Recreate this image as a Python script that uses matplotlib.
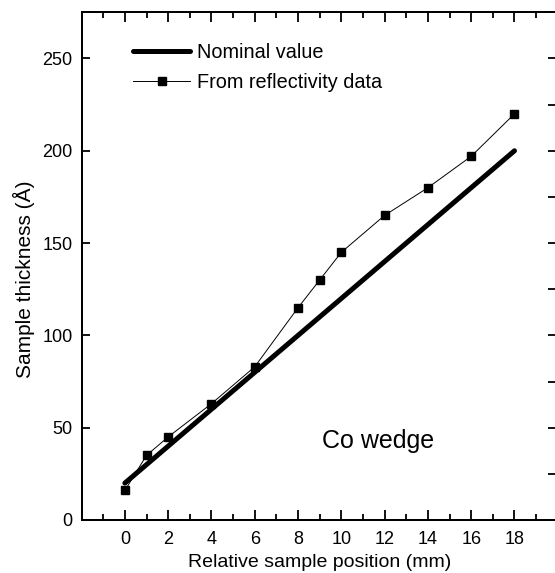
import matplotlib.pyplot as plt
from matplotlib.ticker import MultipleLocator

plt.rcParams['font.family'] = ['Liberation Sans', 'DejaVu Sans']

# nominal wedge thickness (end points)
nominal_x = [0, 18]
nominal_y = [20, 200]

# thickness from reflectivity fits
refl_x = [0, 1, 2, 4, 6, 8, 9, 10, 12, 14, 16, 18]
refl_y = [16, 35, 45, 63, 83, 115, 130, 145, 165, 180, 197, 220]

fig = plt.figure(figsize=(5.55, 5.73), dpi=100)
ax = fig.add_axes([0.147, 0.0925, 0.858, 0.886])

ax.plot(nominal_x, nominal_y, color='black', lw=3.6, solid_capstyle='round',
        label='Nominal value')
ax.plot(refl_x, refl_y, color='black', lw=0.7, marker='s', markersize=6,
        label='From reflectivity data')

ax.set_xlim(-2, 20)
ax.set_ylim(0, 275)
ax.set_xticks(range(0, 19, 2))
ax.xaxis.set_minor_locator(MultipleLocator(1))
ax.set_yticks(range(0, 251, 50))

# bottom/top: inward major+minor ticks
ax.tick_params(axis='x', which='both', direction='in', top=True, labelsize=13, pad=8, width=1.3)
ax.tick_params(axis='x', which='major', length=7)
ax.tick_params(axis='x', which='minor', length=4)
# left: inward major ticks only
ax.tick_params(axis='y', which='major', direction='in', length=6, width=1.3,
               labelsize=13, pad=6.5)

# right side: inward ticks every 25
ax2 = ax.twinx()
ax2.set_ylim(0, 275)
ax2.set_yticks(range(25, 276, 25))
ax2.tick_params(axis='y', direction='in', length=7, width=1.3, labelright=False)

for s in ax.spines.values():
    s.set_linewidth(1.4)
for s in ax2.spines.values():
    s.set_linewidth(1.4)

ax.set_xlabel('Relative sample position (mm)', fontsize=14, labelpad=4)
ax.set_ylabel('Sample thickness (Å)', fontsize=15)
ax.yaxis.set_label_coords(-0.098, 0.474)

ax.text(11.7, 43, 'Co wedge', fontsize=18, ha='center', va='center')

ax.legend(loc='upper left', frameon=False, fontsize=14.3, handlelength=2.9,
          handletextpad=0.35, labelspacing=0.55, bbox_to_anchor=(0.07, 0.975))

fig.savefig('out.png', dpi=100)
